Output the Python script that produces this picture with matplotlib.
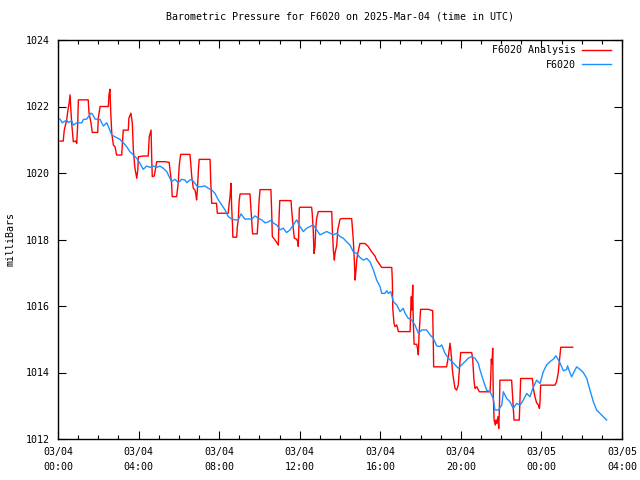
import matplotlib
matplotlib.use("Agg")
import matplotlib.pyplot as plt
from matplotlib.ticker import FixedLocator, MultipleLocator

# hours after 2025-03-04 00:00 UTC, pressure in milliBars
obs_hours = [0.10, 0.21, 0.43, 0.51, 0.68, 0.76, 0.93, 1.18, 1.26, 1.42, 1.64, 1.70, 1.84, 2.09,
             2.25, 2.42, 2.50, 2.67, 2.83, 3.08, 3.24, 3.41, 3.57, 3.66, 3.91, 4.07, 4.23, 4.40,
             4.57, 4.73, 4.90, 5.06, 5.23, 5.40, 5.48, 5.64, 5.81, 5.97, 6.14, 6.30, 6.39, 6.55,
             6.64, 6.80, 6.92, 7.13, 7.30, 7.46, 7.63, 7.79, 7.96, 8.13, 8.29, 8.45, 8.62, 8.79,
             8.95, 9.09, 9.28, 9.45, 9.62, 9.78, 9.94, 10.11, 10.28, 10.44, 10.61, 10.69, 10.86,
             11.02, 11.18, 11.35, 11.52, 11.68, 11.85, 12.01, 12.18, 12.35, 12.51, 12.67, 12.84,
             13.01, 13.17, 13.34, 13.50, 13.67, 13.84, 14.00, 14.16, 14.33, 14.50, 14.66, 14.83,
             14.99, 15.16, 15.33, 15.49, 15.66, 15.82, 15.99, 16.07, 16.23, 16.32, 16.40, 16.52,
             16.65, 16.82, 16.98, 17.14, 17.23, 17.39, 17.56, 17.72, 17.89, 18.06, 18.30, 18.47,
             18.63, 18.80, 18.96, 19.05, 19.21, 19.38, 19.55, 19.71, 19.87, 20.04, 20.21, 20.37,
             20.54, 20.70, 20.87, 20.95, 21.11, 21.28, 21.45, 21.61, 21.69, 21.86, 22.03, 22.11,
             22.27, 22.44, 22.60, 22.77, 22.94, 23.10, 23.27, 23.43, 23.57, 23.76, 23.93, 24.09,
             24.26, 24.43, 24.59, 24.72, 24.89, 25.09, 25.25, 25.30, 25.38, 25.50, 25.62, 25.75,
             25.92, 26.08, 26.25, 26.41, 26.58, 26.74, 26.91, 27.07, 27.24]
obs_pres = [1021.62, 1021.51, 1021.59, 1021.52, 1021.57, 1021.44, 1021.51, 1021.51, 1021.61,
            1021.62, 1021.80, 1021.78, 1021.62, 1021.61, 1021.41, 1021.51, 1021.40, 1021.14,
            1021.09, 1021.01, 1020.91, 1020.79, 1020.64, 1020.59, 1020.44, 1020.29, 1020.11,
            1020.21, 1020.17, 1020.21, 1020.17, 1020.21, 1020.14, 1020.04, 1019.94, 1019.74,
            1019.81, 1019.71, 1019.81, 1019.79, 1019.71, 1019.79, 1019.81, 1019.69, 1019.59,
            1019.59, 1019.61, 1019.54, 1019.49, 1019.39, 1019.19, 1019.04, 1018.89, 1018.69,
            1018.62, 1018.59, 1018.59, 1018.77, 1018.61, 1018.62, 1018.61, 1018.71, 1018.64,
            1018.59, 1018.50, 1018.53, 1018.59, 1018.49, 1018.44, 1018.29, 1018.34, 1018.21,
            1018.29, 1018.44, 1018.59, 1018.39, 1018.24, 1018.34, 1018.39, 1018.44, 1018.29,
            1018.14, 1018.19, 1018.24, 1018.19, 1018.14, 1018.19, 1018.09, 1018.04, 1017.93,
            1017.83, 1017.63, 1017.58, 1017.46, 1017.38, 1017.43, 1017.33, 1017.08, 1016.78,
            1016.58, 1016.38, 1016.38, 1016.46, 1016.38, 1016.43, 1016.13, 1016.03, 1015.83,
            1015.93, 1015.78, 1015.63, 1015.58, 1015.43, 1015.18, 1015.28, 1015.28, 1015.13,
            1015.03, 1014.80, 1014.78, 1014.83, 1014.58, 1014.43, 1014.33, 1014.23, 1014.13,
            1014.23, 1014.33, 1014.43, 1014.48, 1014.43, 1014.27, 1014.08, 1013.77, 1013.47,
            1013.42, 1013.22, 1012.87, 1012.87, 1013.02, 1013.42, 1013.22, 1013.12, 1012.92,
            1013.07, 1013.02, 1013.17, 1013.37, 1013.27, 1013.52, 1013.77, 1013.67, 1014.02,
            1014.23, 1014.33, 1014.40, 1014.50, 1014.33, 1014.05, 1014.09, 1014.20, 1014.05,
            1013.87, 1014.02, 1014.17, 1014.09, 1014.00, 1013.82, 1013.47, 1013.12, 1012.87,
            1012.77, 1012.67, 1012.57]

ana_hours = [0.10, 0.26, 0.31, 0.43, 0.48, 0.55, 0.60, 0.63, 0.68, 0.71, 0.76, 0.88, 0.93, 0.98,
             1.01, 1.50, 1.54, 1.64, 1.70, 1.97, 2.00, 2.09, 2.50, 2.53, 2.58, 2.62, 2.67, 2.75,
             2.83, 2.91, 3.16, 3.24, 3.49, 3.52, 3.62, 3.69, 3.74, 3.82, 3.91, 3.96, 3.99, 4.23,
             4.48, 4.53, 4.62, 4.65, 4.68, 4.78, 4.90, 5.31, 5.52, 5.56, 5.64, 5.67, 5.89, 5.97,
             6.02, 6.09, 6.55, 6.59, 6.64, 6.72, 6.80, 6.85, 6.88, 6.92, 6.97, 7.01, 7.55, 7.58,
             7.63, 7.87, 7.91, 8.45, 8.50, 8.54, 8.59, 8.62, 8.67, 8.68, 8.87, 8.90, 8.95, 8.99,
             9.04, 9.53, 9.57, 9.61, 9.66, 9.89, 9.94, 9.98, 10.03, 10.57, 10.61, 10.64, 10.77,
             10.94, 10.97, 11.01, 11.57, 11.60, 11.68, 11.73, 11.85, 11.90, 11.93, 11.96, 11.98,
             12.01, 12.59, 12.62, 12.67, 12.71, 12.76, 12.79, 12.84, 12.92, 13.59, 13.62, 13.67,
             13.72, 13.75, 13.84, 13.89, 14.00, 14.09, 14.58, 14.61, 14.66, 14.71, 14.75, 14.78,
             14.83, 14.88, 14.99, 15.24, 15.40, 15.57, 15.74, 15.82, 15.99, 16.07, 16.57, 16.60,
             16.62, 16.68, 16.73, 16.82, 16.90, 17.48, 17.51, 17.54, 17.57, 17.61, 17.64, 17.68,
             17.81, 17.86, 17.89, 17.92, 17.97, 18.00, 18.38, 18.60, 18.63, 18.65, 19.29, 19.32,
             19.38, 19.43, 19.46, 19.50, 19.55, 19.57, 19.62, 19.71, 19.79, 19.87, 19.96, 19.99,
             20.54, 20.59, 20.65, 20.70, 20.79, 20.92, 21.45, 21.48, 21.51, 21.55, 21.58, 21.61,
             21.65, 21.71, 21.74, 21.78, 21.84, 21.88, 21.91, 21.94, 22.52, 22.55, 22.60, 22.64,
             22.90, 22.94, 22.97, 23.55, 23.60, 23.68, 23.76, 23.85, 23.90, 23.93, 23.96, 24.67,
             24.75, 24.83, 24.88, 24.92, 24.96, 25.55]
ana_pres = [1020.96, 1020.96, 1021.29, 1021.59, 1021.84, 1022.09, 1022.35, 1021.99, 1021.50,
            1021.29, 1020.94, 1020.96, 1020.89, 1021.50, 1022.20, 1022.20, 1021.80, 1021.50,
            1021.22, 1021.22, 1021.65, 1022.00, 1022.00, 1022.35, 1022.52, 1021.80, 1021.19,
            1020.84, 1020.79, 1020.54, 1020.54, 1021.29, 1021.29, 1021.65, 1021.80, 1021.50,
            1020.69, 1020.14, 1019.84, 1020.09, 1020.49, 1020.51, 1020.51, 1021.09, 1021.29,
            1020.49, 1019.89, 1019.91, 1020.34, 1020.34, 1020.32, 1020.09, 1019.69, 1019.29,
            1019.29, 1019.71, 1020.24, 1020.56, 1020.56, 1020.29, 1019.89, 1019.54, 1019.49,
            1019.34, 1019.19, 1019.49, 1020.09, 1020.41, 1020.41, 1019.79, 1019.09, 1019.09,
            1018.79, 1018.79, 1019.09, 1019.29, 1019.69, 1019.00, 1018.34, 1018.07, 1018.07,
            1018.37, 1018.59, 1019.14, 1019.37, 1019.37, 1018.99, 1018.59, 1018.17, 1018.17,
            1018.64, 1019.14, 1019.50, 1019.50, 1018.79, 1018.09, 1017.99, 1017.83, 1018.59,
            1019.17, 1019.17, 1018.89, 1018.34, 1018.04, 1018.01, 1017.93, 1017.79, 1018.39,
            1018.94, 1018.97, 1018.97, 1018.79, 1018.29, 1017.58, 1017.79, 1018.29, 1018.63,
            1018.84, 1018.84, 1018.29, 1017.68, 1017.38, 1017.58, 1017.83, 1018.29, 1018.61,
            1018.63, 1018.63, 1018.38, 1017.99, 1017.38, 1016.78, 1016.98, 1017.38, 1017.58,
            1017.88, 1017.88, 1017.79, 1017.63, 1017.50, 1017.38, 1017.23, 1017.16, 1017.16,
            1016.73, 1015.93, 1015.48, 1015.38, 1015.43, 1015.23, 1015.23, 1015.88, 1016.28,
            1015.88, 1016.63, 1015.48, 1014.85, 1014.85, 1014.68, 1014.53, 1015.08, 1015.58,
            1015.90, 1015.90, 1015.86, 1014.98, 1014.17, 1014.17, 1014.27, 1014.48, 1014.73,
            1014.88, 1014.68, 1014.33, 1014.13, 1013.87, 1013.52, 1013.47, 1013.62, 1014.38,
            1014.60, 1014.60, 1014.38, 1013.77, 1013.52, 1013.57, 1013.42, 1013.42, 1013.77,
            1014.40, 1014.27, 1014.73, 1013.27, 1012.57, 1012.42, 1012.57, 1012.47, 1012.67,
            1012.32, 1012.82, 1013.77, 1013.77, 1013.47, 1012.97, 1012.57, 1012.57, 1013.27,
            1013.82, 1013.82, 1013.52, 1013.27, 1013.09, 1013.02, 1012.92, 1013.12, 1013.62,
            1013.62, 1013.72, 1013.97, 1014.27, 1014.53, 1014.76, 1014.76]

tick_hours = [0, 4, 8, 12, 16, 20, 24, 28]
tick_labels = ["03/04\n00:00", "03/04\n04:00", "03/04\n08:00", "03/04\n12:00",
               "03/04\n16:00", "03/04\n20:00", "03/05\n00:00", "03/05\n04:00"]

plt.rcParams['font.family'] = 'DejaVu Sans Mono'
plt.rcParams['font.size'] = 7.2

fig = plt.figure(figsize=(6.4, 4.8), dpi=100)
ax = fig.add_axes([58 / 640, 41 / 480, 564 / 640, 399 / 480])

ax.plot(ana_hours, ana_pres, color='#ff0000', lw=1, label='F6020 Analysis')
ax.plot(obs_hours, obs_pres, color='#1e90ff', lw=1, label='F6020')

ax.set_xlim(0, 28)
ax.set_ylim(1012, 1024)
ax.xaxis.set_major_locator(FixedLocator(tick_hours))
ax.set_xticklabels(tick_labels, linespacing=1.6)
ax.xaxis.set_minor_locator(MultipleLocator(1))
ax.yaxis.set_major_locator(MultipleLocator(2))
ax.tick_params(which='both', direction='in', top=True, right=True, width=0.8)
ax.tick_params(which='major', length=6, pad=6)
ax.tick_params(which='minor', length=3)
for s in ax.spines.values():
    s.set_linewidth(1)

ax.set_ylabel('milliBars', labelpad=7)
ax.set_title('Barometric Pressure for F6020 on 2025-Mar-04 (time in UTC)',
             fontsize=7.2, pad=15)

ax.legend(loc='upper right', bbox_to_anchor=(0.993, 1.005), frameon=False,
          markerfirst=False, handlelength=2.9, handletextpad=0.6,
          labelspacing=0.45, borderaxespad=0.3)

fig.savefig('out.png', dpi=100)
